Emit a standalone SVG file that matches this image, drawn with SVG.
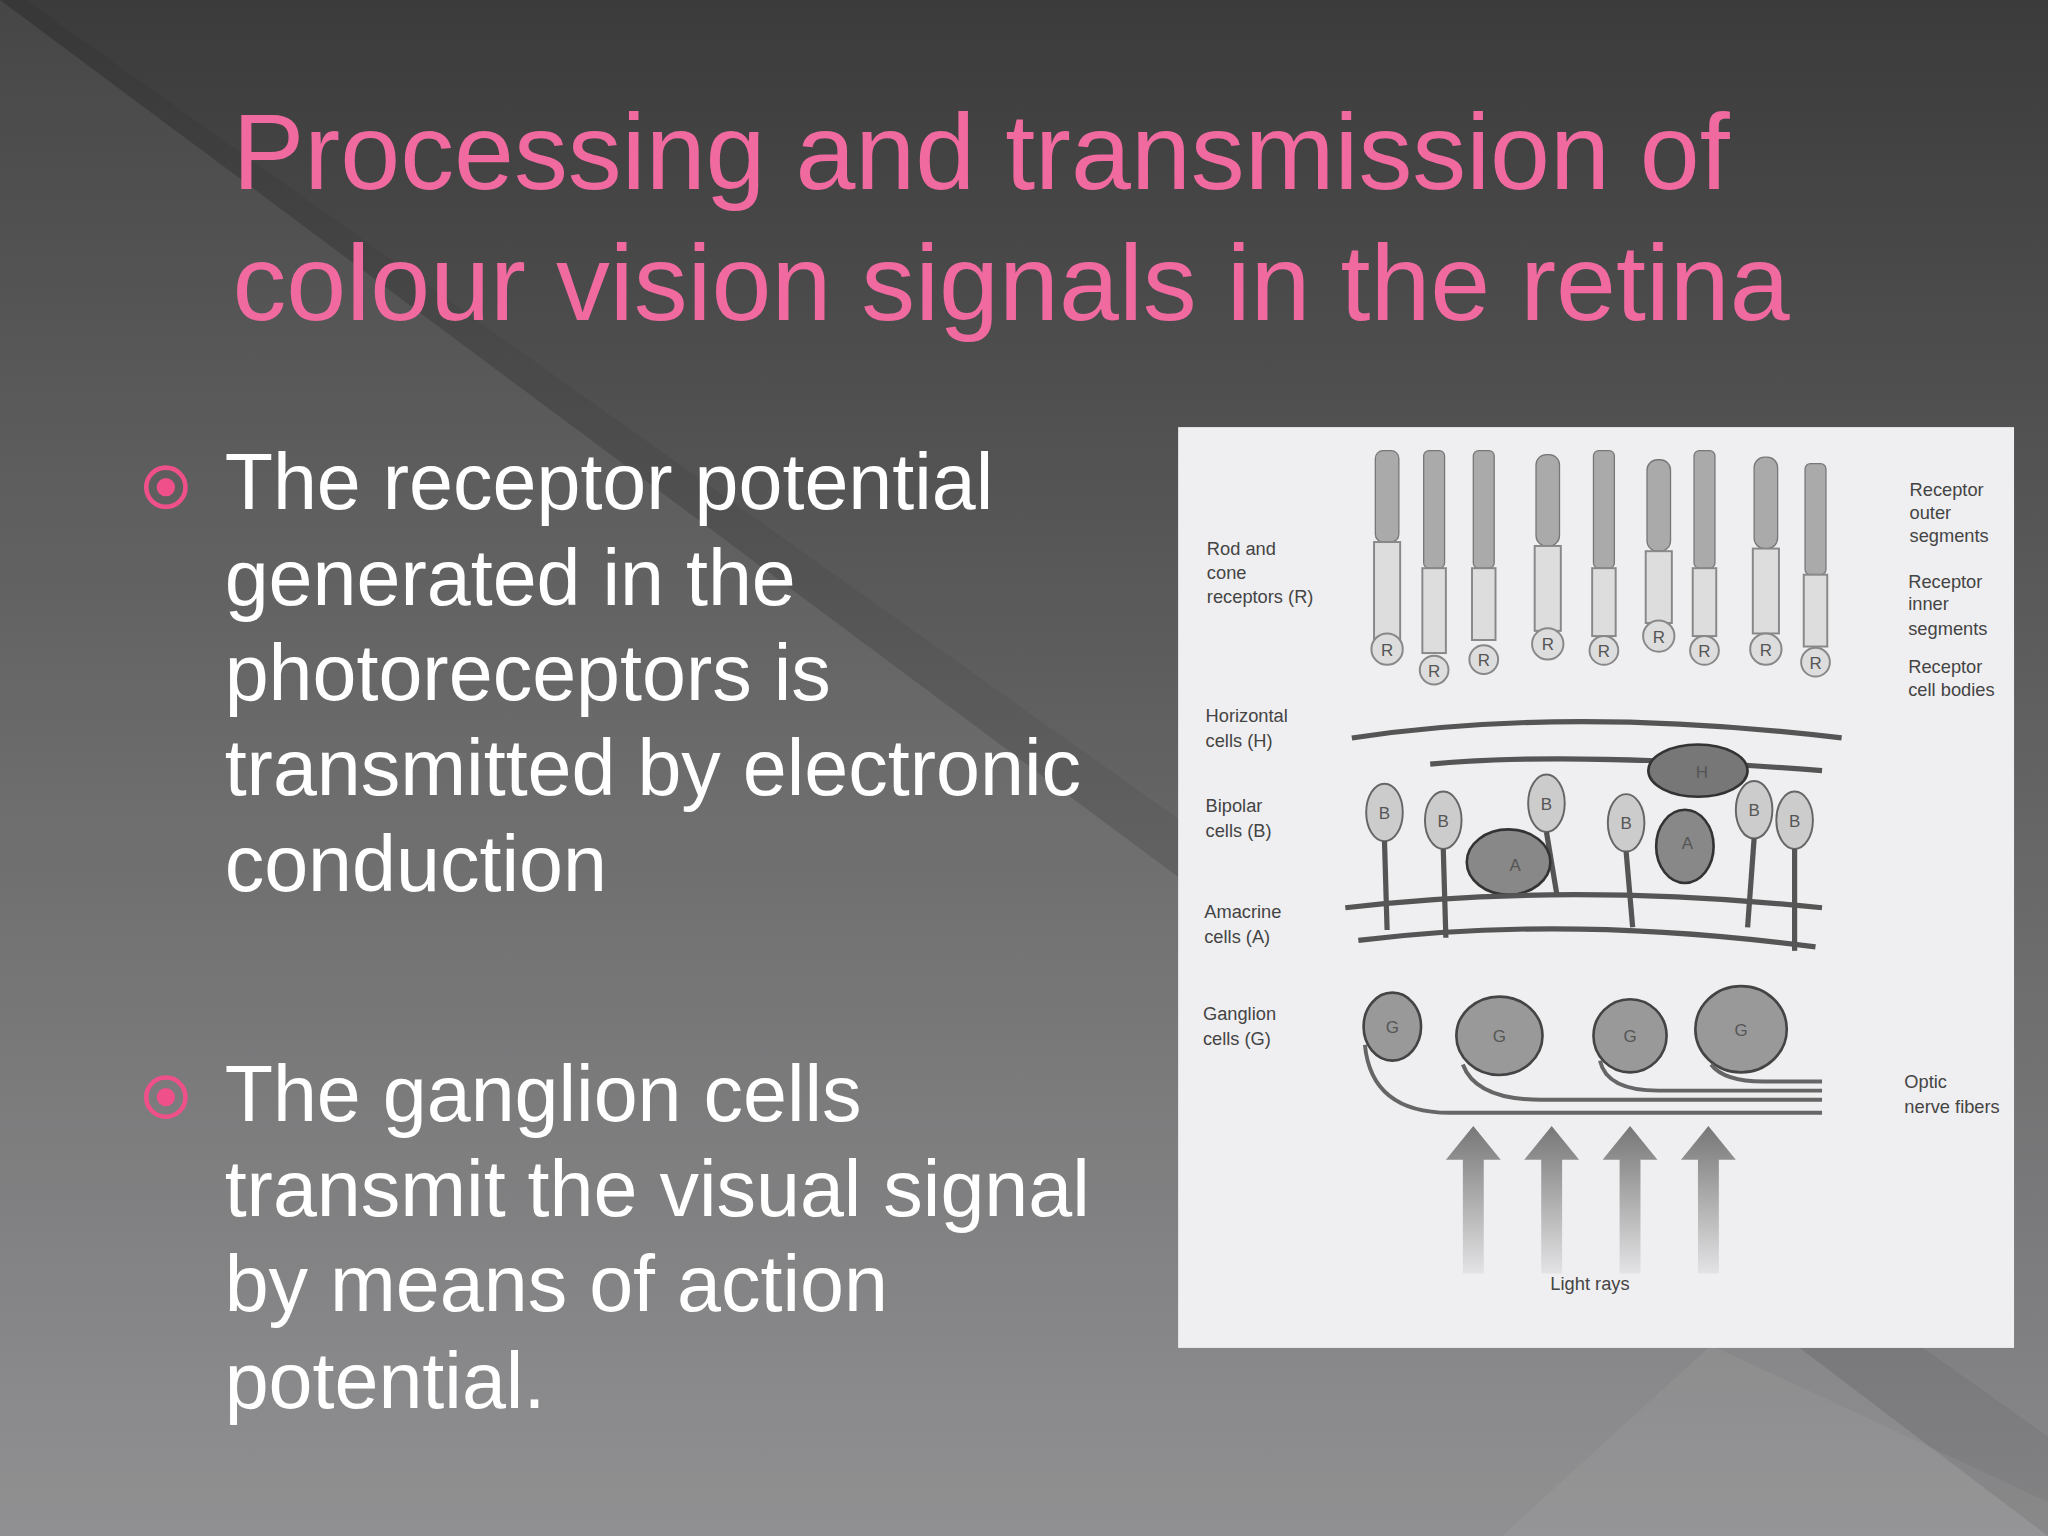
<svg xmlns="http://www.w3.org/2000/svg" width="2048" height="1536" viewBox="0 0 2048 1536">
<defs>
<linearGradient id="bg" x1="0" y1="0" x2="0" y2="1"><stop offset="0" stop-color="#3b3b3b"/><stop offset="1" stop-color="#8a8a8c"/></linearGradient>
<linearGradient id="ray" x1="0" y1="0" x2="0" y2="1"><stop offset="0" stop-color="#777"/><stop offset="1" stop-color="#777" stop-opacity="0.1"/></linearGradient>
<style>
.t{font-family:"Liberation Sans",Arial,sans-serif;fill:#f06aa0;font-size:82.5px}
.b{font-family:"Liberation Sans",Arial,sans-serif;fill:#ffffff;font-size:60.5px}
.l{font-family:"Liberation Sans",Arial,sans-serif;fill:#444;font-size:14px}
.c{font-family:"Liberation Sans",Arial,sans-serif;fill:#555;font-size:13px;text-anchor:middle}
.rc{fill:#ddd;stroke:#888;stroke-width:1.5}
.os{fill:#aaa;stroke:#777;stroke-width:1}
.cell{fill:#ccc;stroke:#666;stroke-width:1.5}
.g{fill:#999;stroke:#444;stroke-width:2}
.ax{fill:none;stroke:#555;stroke-width:4}
</style>
</defs>
<g transform="scale(1.30612)">
<rect width="1568" height="1176" fill="url(#bg)"/>
<polygon points="0,0 0,1176 1568,1176 900,670" fill="#ffffff" opacity="0.06"/>
<polygon points="0,0 900,670 1568,1176 1568,1100 20,0" fill="#000" opacity="0.05"/>
<polygon points="1150,1176 1310,1030 1568,1150 1568,1176" fill="#ffffff" opacity="0.05"/>
<g id="title">
<text class="t" x="178" y="145">Processing and transmission of</text>
<text class="t" x="178" y="245">colour vision signals in the retina</text>
</g>
<g id="bullet1">
<circle cx="127" cy="373" r="15" fill="none" stroke="#f0508a" stroke-width="3.5"/><circle cx="127" cy="373" r="7" fill="#f0508a"/>
<text class="b" x="172" y="390">The receptor potential</text>
<text class="b" x="172" y="463">generated in the</text>
<text class="b" x="172" y="536">photoreceptors is</text>
<text class="b" x="172" y="609">transmitted by electronic</text>
<text class="b" x="172" y="682">conduction</text>
</g>
<g id="bullet2">
<circle cx="127" cy="840" r="15" fill="none" stroke="#f0508a" stroke-width="3.5"/><circle cx="127" cy="840" r="7" fill="#f0508a"/>
<text class="b" x="172" y="858">The ganglion cells</text>
<text class="b" x="172" y="931">transmit the visual signal</text>
<text class="b" x="172" y="1004">by means of action</text>
<text class="b" x="172" y="1078">potential.</text>
</g>
<g id="figure">
<rect x="902" y="327" width="640" height="705" fill="#efeff1"/>
<g id="receptors">
<g transform="translate(1062,0)"><rect class="os" x="-9" y="345" width="18" height="70" rx="6"/><rect class="rc" x="-10" y="415" width="20" height="75"/><circle class="rc" cx="0" cy="497" r="12"/><text class="c" y="502">R</text></g>
<g transform="translate(1098,0)"><rect class="os" x="-8" y="345" width="16" height="90" rx="4"/><rect class="rc" x="-9" y="435" width="18" height="65"/><circle class="rc" cx="0" cy="513" r="11"/><text class="c" y="518">R</text></g>
<g transform="translate(1136,0)"><rect class="os" x="-8" y="345" width="16" height="90" rx="4"/><rect class="rc" x="-9" y="435" width="18" height="55"/><circle class="rc" cx="0" cy="505" r="11"/><text class="c" y="510">R</text></g>
<g transform="translate(1185,0)"><rect class="os" x="-9" y="348" width="18" height="70" rx="8"/><rect class="rc" x="-10" y="418" width="20" height="65"/><circle class="rc" cx="0" cy="493" r="12"/><text class="c" y="498">R</text></g>
<g transform="translate(1228,0)"><rect class="os" x="-8" y="345" width="16" height="90" rx="4"/><rect class="rc" x="-9" y="435" width="18" height="52"/><circle class="rc" cx="0" cy="498" r="11"/><text class="c" y="503">R</text></g>
<g transform="translate(1270,0)"><rect class="os" x="-9" y="352" width="18" height="70" rx="8"/><rect class="rc" x="-10" y="422" width="20" height="55"/><circle class="rc" cx="0" cy="487" r="12"/><text class="c" y="492">R</text></g>
<g transform="translate(1305,0)"><rect class="os" x="-8" y="345" width="16" height="90" rx="4"/><rect class="rc" x="-9" y="435" width="18" height="52"/><circle class="rc" cx="0" cy="498" r="11"/><text class="c" y="503">R</text></g>
<g transform="translate(1352,0)"><rect class="os" x="-9" y="350" width="18" height="70" rx="8"/><rect class="rc" x="-10" y="420" width="20" height="65"/><circle class="rc" cx="0" cy="497" r="12"/><text class="c" y="502">R</text></g>
<g transform="translate(1390,0)"><rect class="os" x="-8" y="355" width="16" height="85" rx="4"/><rect class="rc" x="-9" y="440" width="18" height="55"/><circle class="rc" cx="0" cy="507" r="11"/><text class="c" y="512">R</text></g>
</g>
<g id="horizontal">
<path d="M1035,565 Q1200,540 1410,565" class="ax" stroke="#666"/>
<path d="M1095,585 Q1200,575 1395,590" class="ax"/>
<ellipse cx="1300" cy="590" rx="38" ry="20" fill="#777" stroke="#333" stroke-width="2"/><text class="c" x="1303" y="596">H</text>
</g>
<g id="bipolars">
<g transform="translate(1060,622)"><ellipse class="cell" rx="14" ry="22"/><text class="c" y="5">B</text><path d="M0,22 L2,90" class="ax" stroke-width="2"/></g>
<g transform="translate(1105,628)"><ellipse class="cell" rx="14" ry="22"/><text class="c" y="5">B</text><path d="M0,22 L2,90" class="ax" stroke-width="2"/></g>
<g transform="translate(1184,615)"><ellipse class="cell" rx="14" ry="22"/><text class="c" y="5">B</text><path d="M0,22 L8,70" class="ax" stroke-width="2"/></g>
<g transform="translate(1245,630)"><ellipse class="cell" rx="14" ry="22"/><text class="c" y="5">B</text><path d="M0,22 L5,80" class="ax" stroke-width="2"/></g>
<g transform="translate(1343,620)"><ellipse class="cell" rx="14" ry="22"/><text class="c" y="5">B</text><path d="M0,22 L-5,90" class="ax" stroke-width="2"/></g>
<g transform="translate(1374,628)"><ellipse class="cell" rx="14" ry="22"/><text class="c" y="5">B</text><path d="M0,22 L0,100" class="ax" stroke-width="2"/></g>
</g>
<g id="amacrine">
<ellipse cx="1155" cy="660" rx="32" ry="25" fill="#888" stroke="#333" stroke-width="2"/><text class="c" x="1160" y="667">A</text>
<ellipse cx="1290" cy="648" rx="22" ry="28" fill="#888" stroke="#333" stroke-width="2"/><text class="c" x="1292" y="650">A</text>
<path d="M1030,695 Q1200,675 1395,695 M1040,720 Q1200,700 1390,725" class="ax"/>
</g>
<g id="ganglions">
<g transform="translate(1066,786)"><ellipse class="g" rx="22" ry="26"/><text class="c" y="5">G</text></g>
<g transform="translate(1148,793)"><ellipse class="g" rx="33" ry="30"/><text class="c" y="5">G</text></g>
<g transform="translate(1248,793)"><ellipse class="g" rx="28" ry="28"/><text class="c" y="5">G</text></g>
<g transform="translate(1333,788)"><ellipse class="g" rx="35" ry="33"/><text class="c" y="5">G</text></g>
<path d="M1045,800 Q1050,852 1110,852 L1395,852 M1120,815 Q1130,842 1180,842 L1395,842 M1225,812 Q1230,835 1270,835 L1395,835 M1310,815 Q1320,828 1350,828 L1395,828" fill="none" stroke="#666" stroke-width="3"/>
</g>
<g id="rays">
<path d="M1120,975 L1120,888 L1107,888 L1128,862 L1149,888 L1136,888 L1136,975 Z" fill="url(#ray)"/>
<path d="M1180,975 L1180,888 L1167,888 L1188,862 L1209,888 L1196,888 L1196,975 Z" fill="url(#ray)"/>
<path d="M1240,975 L1240,888 L1227,888 L1248,862 L1269,888 L1256,888 L1256,975 Z" fill="url(#ray)"/>
<path d="M1300,975 L1300,888 L1287,888 L1308,862 L1329,888 L1316,888 L1316,975 Z" fill="url(#ray)"/>
</g>
<g id="labels">
<text class="l" x="924" y="425">Rod and</text><text class="l" x="924" y="443">cone</text><text class="l" x="924" y="462">receptors (R)</text>
<text class="l" x="923" y="553">Horizontal</text><text class="l" x="923" y="572">cells (H)</text>
<text class="l" x="923" y="622">Bipolar</text><text class="l" x="923" y="641">cells (B)</text>
<text class="l" x="922" y="703">Amacrine</text><text class="l" x="922" y="722">cells (A)</text>
<text class="l" x="921" y="781">Ganglion</text><text class="l" x="921" y="800">cells (G)</text>
<text class="l" x="1462" y="380">Receptor</text><text class="l" x="1462" y="397">outer</text><text class="l" x="1462" y="415">segments</text>
<text class="l" x="1461" y="450">Receptor</text><text class="l" x="1461" y="467">inner</text><text class="l" x="1461" y="486">segments</text>
<text class="l" x="1461" y="515">Receptor</text><text class="l" x="1461" y="533">cell bodies</text>
<text class="l" x="1458" y="833">Optic</text><text class="l" x="1458" y="852">nerve fibers</text>
<text class="l" x="1187" y="988">Light rays</text>
</g>
</g>
</g>
</svg>
